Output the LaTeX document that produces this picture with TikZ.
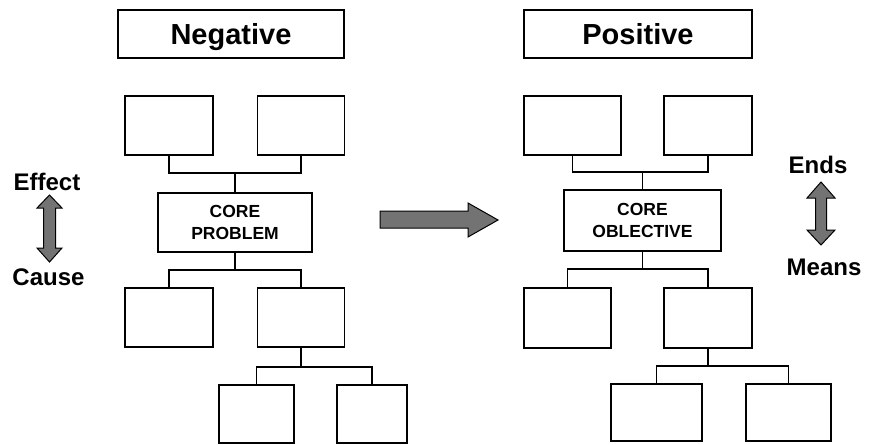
\documentclass[tikz,border=0pt]{standalone}
\usepackage{fontspec}
\setmainfont{Liberation Sans}
\begin{document}
\begin{tikzpicture}[x=1pt,y=-1pt,
  box/.style={draw=black,line width=1.2pt,fill=white,inner sep=0pt},
  head/.style={box,text height=21pt,text depth=0pt,font=\fontsize{29}{34}\selectfont\bfseries},
  core/.style={box,align=center,font=\fontsize{17.5}{21.5}\selectfont\bfseries},
  link/.style={draw=black,line width=1.2pt},
  side/.style={font=\fontsize{24}{28}\selectfont\bfseries},
  shade/.style={draw=black,line width=1pt,fill=black!55}]
\useasboundingbox (0,0) rectangle (869,444);

% ---------- left tree ----------
\node[head,minimum width=226pt,minimum height=48pt] (neg) at (231,34) {Negative};
\node[box,minimum width=88pt,minimum height=59pt] (l1) at (169,125.5) {};
\node[box,minimum width=87pt,minimum height=59pt] (l2) at (301,125.5) {};
\node[core,minimum width=154pt,minimum height=59pt] (lcore) at (235,222.5) {CORE\\PROBLEM};
\node[box,minimum width=88pt,minimum height=59pt] (l3) at (169,317.5) {};
\node[box,minimum width=87pt,minimum height=59pt] (l4) at (301,317.5) {};
\node[box,minimum width=75pt,minimum height=58pt] (l5) at (256.5,414) {};
\node[box,minimum width=70pt,minimum height=58pt] (l6) at (372,414) {};

\coordinate (lj1) at (235,173);
\coordinate (lj2) at (235,270);
\coordinate (lj3) at (301,367);
\draw[link] (l1.south) |- (lj1) -| (l2.south);
\draw[link] (lj1) -- (lcore.north);
\draw[link] (lcore.south) -- (lj2);
\draw[link] (l3.north) |- (lj2) -| (l4.north);
\draw[link] (l4.south) -- (lj3);
\draw[link] (l5.north) |- (lj3) -| (l6.north);

% ---------- right tree ----------
\node[head,minimum width=228pt,minimum height=48pt] (pos) at (638,34) {Positive};
\node[box,minimum width=97pt,minimum height=59pt] (r1) at (572.5,125.5) {};
\node[box,minimum width=88pt,minimum height=59pt] (r2) at (708,125.5) {};
\node[core,minimum width=157pt,minimum height=61pt] (rcore) at (642.5,220.5) {CORE\\OBLECTIVE};
\node[box,minimum width=87pt,minimum height=60pt] (r3) at (567.5,318) {};
\node[box,minimum width=88pt,minimum height=60pt] (r4) at (708,318) {};
\node[box,minimum width=91pt,minimum height=57pt] (r5) at (656.5,412.5) {};
\node[box,minimum width=85pt,minimum height=57pt] (r6) at (788.5,412.5) {};

\coordinate (rj1) at (642.5,172);
\coordinate (rj2) at (642.5,269);
\coordinate (rj3) at (708,366);
\draw[link] (r1.south) |- (rj1) -| (r2.south);
\draw[link] (rj1) -- (rcore.north);
\draw[link] (rcore.south) -- (rj2);
\draw[link] (r3.north) |- (rj2) -| (r4.north);
\draw[link] (r4.south) -- (rj3);
\draw[link] (r5.north) |- (rj3) -| (r6.north);

% ---------- transformation arrow ----------
\path[shade] (380,211) -- (468,211) -- (468,203) -- (498,220) -- (468,237)
  -- (468,228) -- (380,228) -- cycle;

% ---------- cause / effect scale ----------
\node[side] (effect) at (47,182) {Effect};
\node[side] (cause) at (48.5,277) {Cause};
\path[shade] (49.5,195) -- (62,208) -- (55.5,208) -- (55.5,248) -- (62,248)
  -- (49.5,262) -- (37,248) -- (43.5,248) -- (43.5,208) -- (37,208) -- cycle;

% ---------- means / ends scale ----------
\node[side] (ends) at (818,165) {Ends};
\node[side] (means) at (824,267) {Means};
\path[shade] (821,182) -- (835,198) -- (826.5,198) -- (826.5,230) -- (835,230)
  -- (821,245) -- (807,230) -- (815.5,230) -- (815.5,198) -- (807,198) -- cycle;
\end{tikzpicture}
\end{document}
